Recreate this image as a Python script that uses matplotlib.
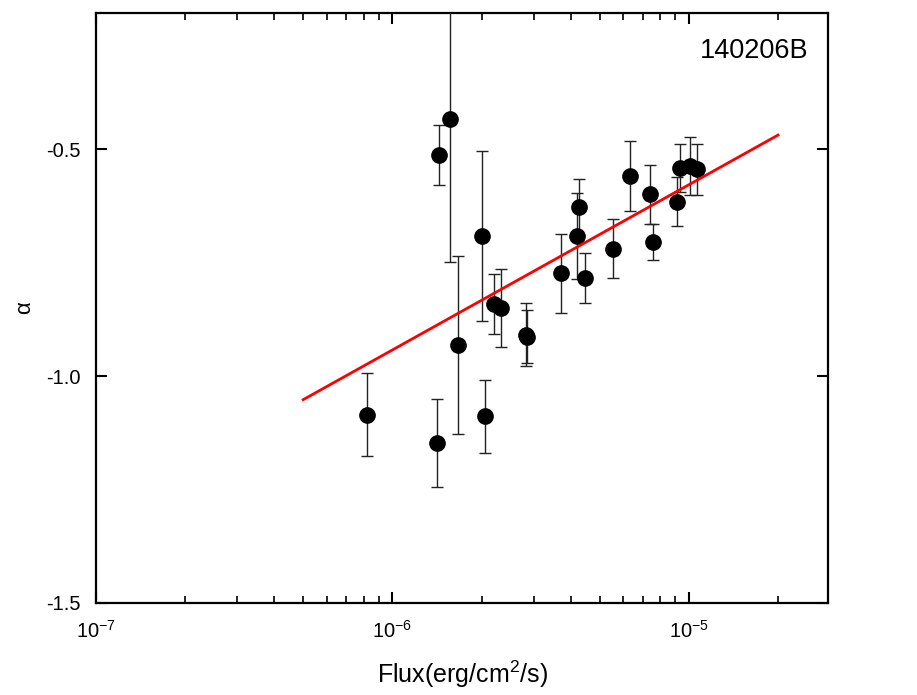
import numpy as np
import matplotlib
matplotlib.use('Agg')
import matplotlib.pyplot as plt
from matplotlib.ticker import LogLocator, NullFormatter, FixedLocator, FormatStrFormatter

plt.rcParams['font.family'] = ['Liberation Sans', 'DejaVu Sans']
plt.rcParams['axes.unicode_minus'] = False
plt.rcParams['mathtext.fontset'] = 'custom'
plt.rcParams['mathtext.rm'] = 'Liberation Sans'

# flux (erg/cm2/s), alpha and its error
flux = [8.23e-7, 1.41e-6, 1.44e-6, 1.57e-6, 1.66e-6, 2.00e-6, 2.06e-6, 2.21e-6,
        2.32e-6, 2.83e-6, 2.85e-6, 3.70e-6, 4.18e-6, 4.25e-6, 4.45e-6, 5.54e-6,
        6.32e-6, 7.38e-6, 7.56e-6, 9.11e-6, 9.32e-6, 1.008e-5, 1.064e-5]
alpha = [-1.085, -1.148, -0.513, -0.434, -0.931, -0.691, -1.089, -0.841,
         -0.849, -0.909, -0.913, -0.773, -0.691, -0.627, -0.784, -0.720,
         -0.559, -0.599, -0.704, -0.616, -0.542, -0.537, -0.544]
alpha_err = [0.092, 0.097, 0.066, 0.314, 0.196, 0.187, 0.081, 0.066,
             0.086, 0.069, 0.058, 0.087, 0.095, 0.062, 0.055, 0.065,
             0.078, 0.065, 0.040, 0.054, 0.053, 0.063, 0.056]

# best fit line endpoints
fit_flux = [5.0e-7, 2.0e-5]
fit_alpha = [-1.052, -0.469]

fig = plt.figure(figsize=(9.17, 6.95), dpi=100)
ax = fig.add_axes([0.1047, 0.1324, 0.7983, 0.8489])

ax.errorbar(flux, alpha, yerr=alpha_err, fmt='o', color='black', ms=11,
            ecolor='#222222', elinewidth=1.0, capsize=4.5, capthick=1.0, zorder=3)
ax.plot(fit_flux, fit_alpha, color='red', lw=2, zorder=4)

ax.set_xscale('log')
ax.set_xlim(1e-7, 2.95e-5)
ax.set_ylim(-1.5, -0.2)

ax.xaxis.set_major_locator(LogLocator(base=10, numticks=10))
ax.xaxis.set_minor_locator(LogLocator(base=10, subs=np.arange(2, 10), numticks=10))
ax.xaxis.set_minor_formatter(NullFormatter())
ax.yaxis.set_major_locator(FixedLocator([-1.5, -1.0, -0.5]))
ax.yaxis.set_major_formatter(FormatStrFormatter('%.1f'))

ax.tick_params(which='major', direction='in', length=8, width=1.5, labelsize=14.5,
               top=True, right=True)
ax.tick_params(axis='x', which='major', pad=12)
ax.tick_params(axis='y', which='major', pad=11)
ax.tick_params(which='minor', direction='in', length=5, width=1.2, top=True, right=True)
for s in ax.spines.values():
    s.set_linewidth(1.6)

ax.set_xlabel('Flux(erg/cm$^2$/s)', fontsize=18, labelpad=12)
ax.set_ylabel('α', fontsize=16, labelpad=8)
ax.text(0.973, 0.958, '140206B', transform=ax.transAxes, ha='right', va='top', fontsize=19.5)

fig.savefig('out.png', dpi=100)
